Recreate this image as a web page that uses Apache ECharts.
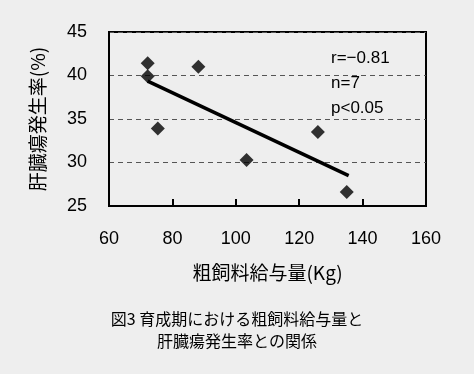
<!DOCTYPE html>
<html><head><meta charset="utf-8">
<script src="https://cdn.jsdelivr.net/npm/echarts@6/dist/echarts.min.js"></script>
<style>html,body{margin:0;padding:0;background:#eeeeee;}#c{width:474px;height:374px;}</style>
</head><body><div id="c"></div>
<script>
const feedKg = [72.2, 72.2, 88.2, 75.4, 103.4, 125.9, 135.0];
const incidence = [41.4, 39.9, 41.0, 33.9, 30.3, 33.5, 26.6];
const trendX = [72.2, 135.6];
const trendY = [39.35, 28.5];
const statsLines = ['r=\u22120.81', 'n=7', 'p<0.05'];
const xTitle = '粗飼料給与量(Kg)';
const yTitle = '肝臓瘍発生率(%)';
const captionLines = ['図3 育成期における粗飼料給与量と', '肝臓瘍発生率との関係'];

const font = '"Noto Sans CJK JP", "Noto Sans", sans-serif';
const numFont = '"Liberation Sans", Arial, sans-serif';
const chart = echarts.init(document.getElementById('c'));
chart.setOption({
  backgroundColor: '#eeeeee',
  animation: false,
  textStyle: {fontFamily: font},
  grid: {left: 109, right: 48, top: 32, bottom: 168, show: true, borderColor: '#000', borderWidth: 2, backgroundColor: 'transparent'},
  xAxis: {
    type: 'value', min: 60, max: 160, interval: 20,
    name: xTitle, nameLocation: 'middle', nameGap: 57,
    nameTextStyle: {fontSize: 19, color: '#000', fontFamily: font},
    axisLine: {show: true, onZero: false, lineStyle: {color: '#000', width: 2}},
    axisTick: {show: true, inside: true, length: 7, lineStyle: {color: '#000', width: 2}},
    axisLabel: {fontSize: 18, color: '#000', margin: 24, fontFamily: numFont,
      showMinLabel: true, showMaxLabel: true},
    splitLine: {show: false}
  },
  yAxis: {
    type: 'value', min: 25, max: 45, interval: 5,
    name: yTitle, nameLocation: 'middle', nameGap: 62, nameRotate: 90,
    nameTextStyle: {fontSize: 19, color: '#000', fontFamily: font},
    axisLine: {show: true, onZero: false, lineStyle: {color: '#000', width: 2}},
    axisTick: {show: false},
    axisLabel: {fontSize: 18, color: '#000', margin: 22, fontFamily: numFont},
    splitLine: {show: true, lineStyle: {color: '#555', type: [5, 4], width: 1}}
  },
  series: [
    {
      type: 'line', data: trendX.map((x, i) => [x, trendY[i]]),
      symbol: 'none', lineStyle: {color: '#000', width: 3.5}, z: 2
    },
    {
      type: 'scatter', data: feedKg.map((x, i) => [x, incidence[i]]),
      symbol: 'diamond', symbolSize: 14, itemStyle: {color: '#000'}, z: 3
    }
  ],
  graphic: [
    ...statsLines.map((t, i) => ({
      type: 'text', left: 331, top: 50 + i * 25,
      style: {text: t, fontSize: 17, fill: '#000', fontFamily: numFont}
    })),
    ...captionLines.map((t, i) => ({
      type: 'text', left: 'center', top: 311 + i * 22,
      style: {text: t, fontSize: 16, fill: '#000', fontFamily: font}
    }))
  ]
});
</script></body></html>
